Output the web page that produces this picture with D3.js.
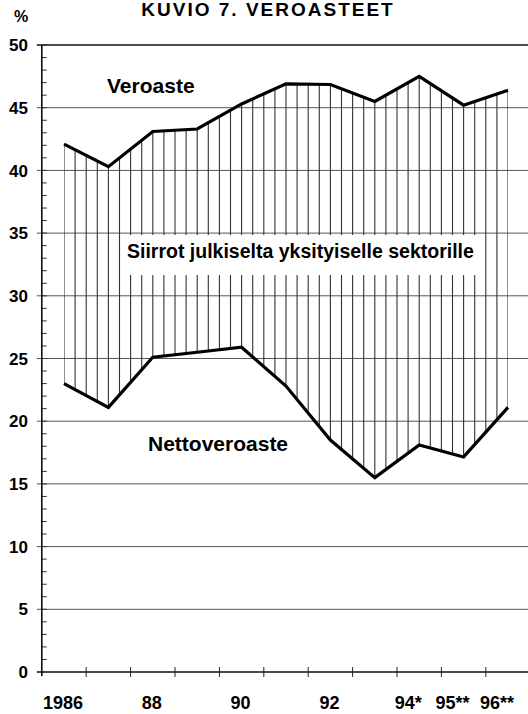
<!DOCTYPE html>
<html>
<head>
<meta charset="utf-8">
<script src="https://cdnjs.cloudflare.com/ajax/libs/d3/7.8.5/d3.min.js"></script>
<style>
	body { margin: 0; background: #fff; }
	svg { display: block; font-family: 'Liberation Sans', Arial, sans-serif; font-weight: bold; }
</style>
</head>
<body>
<script>
const years = [1986, 1987, 1988, 1989, 1990, 1991, 1992, 1993, 1994, 1995, 1996];
const yearLabels = ['1986', '', '88', '', '90', '', '92', '', '94*', '95**', '96**'];
const veroaste = [42.1, 40.3, 43.1, 43.3, 45.3, 46.9, 46.85, 45.5, 47.5, 45.2, 46.4];
const nettoveroaste = [23.0, 21.1, 25.1, 25.5, 25.9, 22.8, 18.5, 15.5, 18.1, 17.15, 21.1];
const yTicks = [0, 5, 10, 15, 20, 25, 30, 35, 40, 45, 50];

const width = 528;
const height = 714;

const svg = d3.select('body')
	.append('svg')
	.attr('width', width)
	.attr('height', height);

const xScale = d3.scaleLinear()
	.domain([1986, 1996])
	.range([64, 508]);

const yScale = d3.scaleLinear()
	.domain([0, 50])
	.range([672, 45]);

const x0 = xScale(1985.5); // y axis sits half a year left of the first point

svg.append('text')
	.attr('x', 268)
	.attr('y', 16)
	.attr('text-anchor', 'middle')
	.style('font-size', '19px')
	.style('letter-spacing', '2px')
	.text('KUVIO 7.  VEROASTEET');

svg.append('text')
	.attr('x', 21)
	.attr('y', 22)
	.attr('text-anchor', 'middle')
	.style('font-size', '16px')
	.text('%');

// gridlines
svg.selectAll('line.grid')
	.data(yTicks)
	.enter()
	.append('line')
	.attr('class', 'grid')
	.attr('x1', x0 - 5)
	.attr('x2', width)
	.attr('y1', function(d) { return yScale(d); })
	.attr('y2', function(d) { return yScale(d); })
	.attr('stroke', function(d) { return d === 0 || d === 50 ? '#111' : '#555'; })
	.attr('stroke-width', function(d) { return d === 0 || d === 50 ? 1.5 : 1; });

svg.selectAll('text.ylab')
	.data(yTicks)
	.enter()
	.append('text')
	.attr('class', 'ylab')
	.attr('x', 28)
	.attr('y', function(d) { return yScale(d); })
	.attr('dy', '0.36em')
	.attr('text-anchor', 'end')
	.style('font-size', '17px')
	.text(function(d) { return d; });

// minor ticks every 1 %
svg.selectAll('line.minor')
	.data(d3.range(0, 51))
	.enter()
	.append('line')
	.attr('class', 'minor')
	.attr('x1', x0)
	.attr('x2', x0 + 5)
	.attr('y1', function(d) { return yScale(d); })
	.attr('y2', function(d) { return yScale(d); })
	.attr('stroke', '#333')
	.attr('stroke-width', 1);

svg.append('line')
	.attr('x1', x0)
	.attr('x2', x0)
	.attr('y1', yScale(50))
	.attr('y2', yScale(0) + 4)
	.attr('stroke', '#000')
	.attr('stroke-width', 1.5);

// x ticks between the years
svg.selectAll('line.xtick')
	.data(years.map(function(d) { return d + 0.5; }))
	.enter()
	.append('line')
	.attr('class', 'xtick')
	.attr('x1', function(d) { return xScale(d); })
	.attr('x2', function(d) { return xScale(d); })
	.attr('y1', yScale(0) - 5)
	.attr('y2', yScale(0) + 5)
	.attr('stroke', '#222')
	.attr('stroke-width', 1);

svg.selectAll('text.xlab')
	.data(years)
	.enter()
	.append('text')
	.attr('class', 'xlab')
	.attr('x', function(d, i) { return xScale(d) - (yearLabels[i].indexOf('*') > -1 ? 11 : 1); })
	.attr('y', 709)
	.attr('text-anchor', 'middle')
	.style('font-size', '18px')
	.text(function(d, i) { return yearLabels[i]; });

// hatching between the two series
const area = d3.area()
	.x(function(d, i) { return xScale(years[i]); })
	.y0(function(d, i) { return yScale(nettoveroaste[i]); })
	.y1(function(d) { return yScale(d); });

svg.append('clipPath')
	.attr('id', 'between')
	.append('path')
	.attr('d', area(veroaste));

svg.append('g')
	.attr('clip-path', 'url(#between)')
	.selectAll('line')
	.data(d3.range(1986, 1996.01, 0.25))
	.enter()
	.append('line')
	.attr('x1', function(d) { return xScale(d); })
	.attr('x2', function(d) { return xScale(d); })
	.attr('y1', yScale(50))
	.attr('y2', yScale(0))
	.attr('stroke', '#333')
	.attr('stroke-width', 1.1);

const line = d3.line()
	.x(function(d, i) { return xScale(years[i]); })
	.y(function(d) { return yScale(d); });

[veroaste, nettoveroaste].forEach(function(s) {
	svg.append('path')
		.attr('d', line(s))
		.attr('fill', 'none')
		.attr('stroke', '#000')
		.attr('stroke-width', 3.2)
		.attr('stroke-linejoin', 'miter');
});

svg.append('text')
	.attr('x', 107)
	.attr('y', 93)
	.style('font-size', '21px')
	.text('Veroaste');

svg.append('rect')
	.attr('x', 123)
	.attr('y', 235)
	.attr('width', 354)
	.attr('height', 40)
	.attr('fill', '#fff');

svg.append('text')
	.attr('x', 127)
	.attr('y', 258)
	.style('font-size', '19.5px')
	.text('Siirrot julkiselta yksityiselle sektorille');

svg.append('text')
	.attr('x', 148)
	.attr('y', 451)
	.style('font-size', '21px')
	.text('Nettoveroaste');
</script>
</body>
</html>
